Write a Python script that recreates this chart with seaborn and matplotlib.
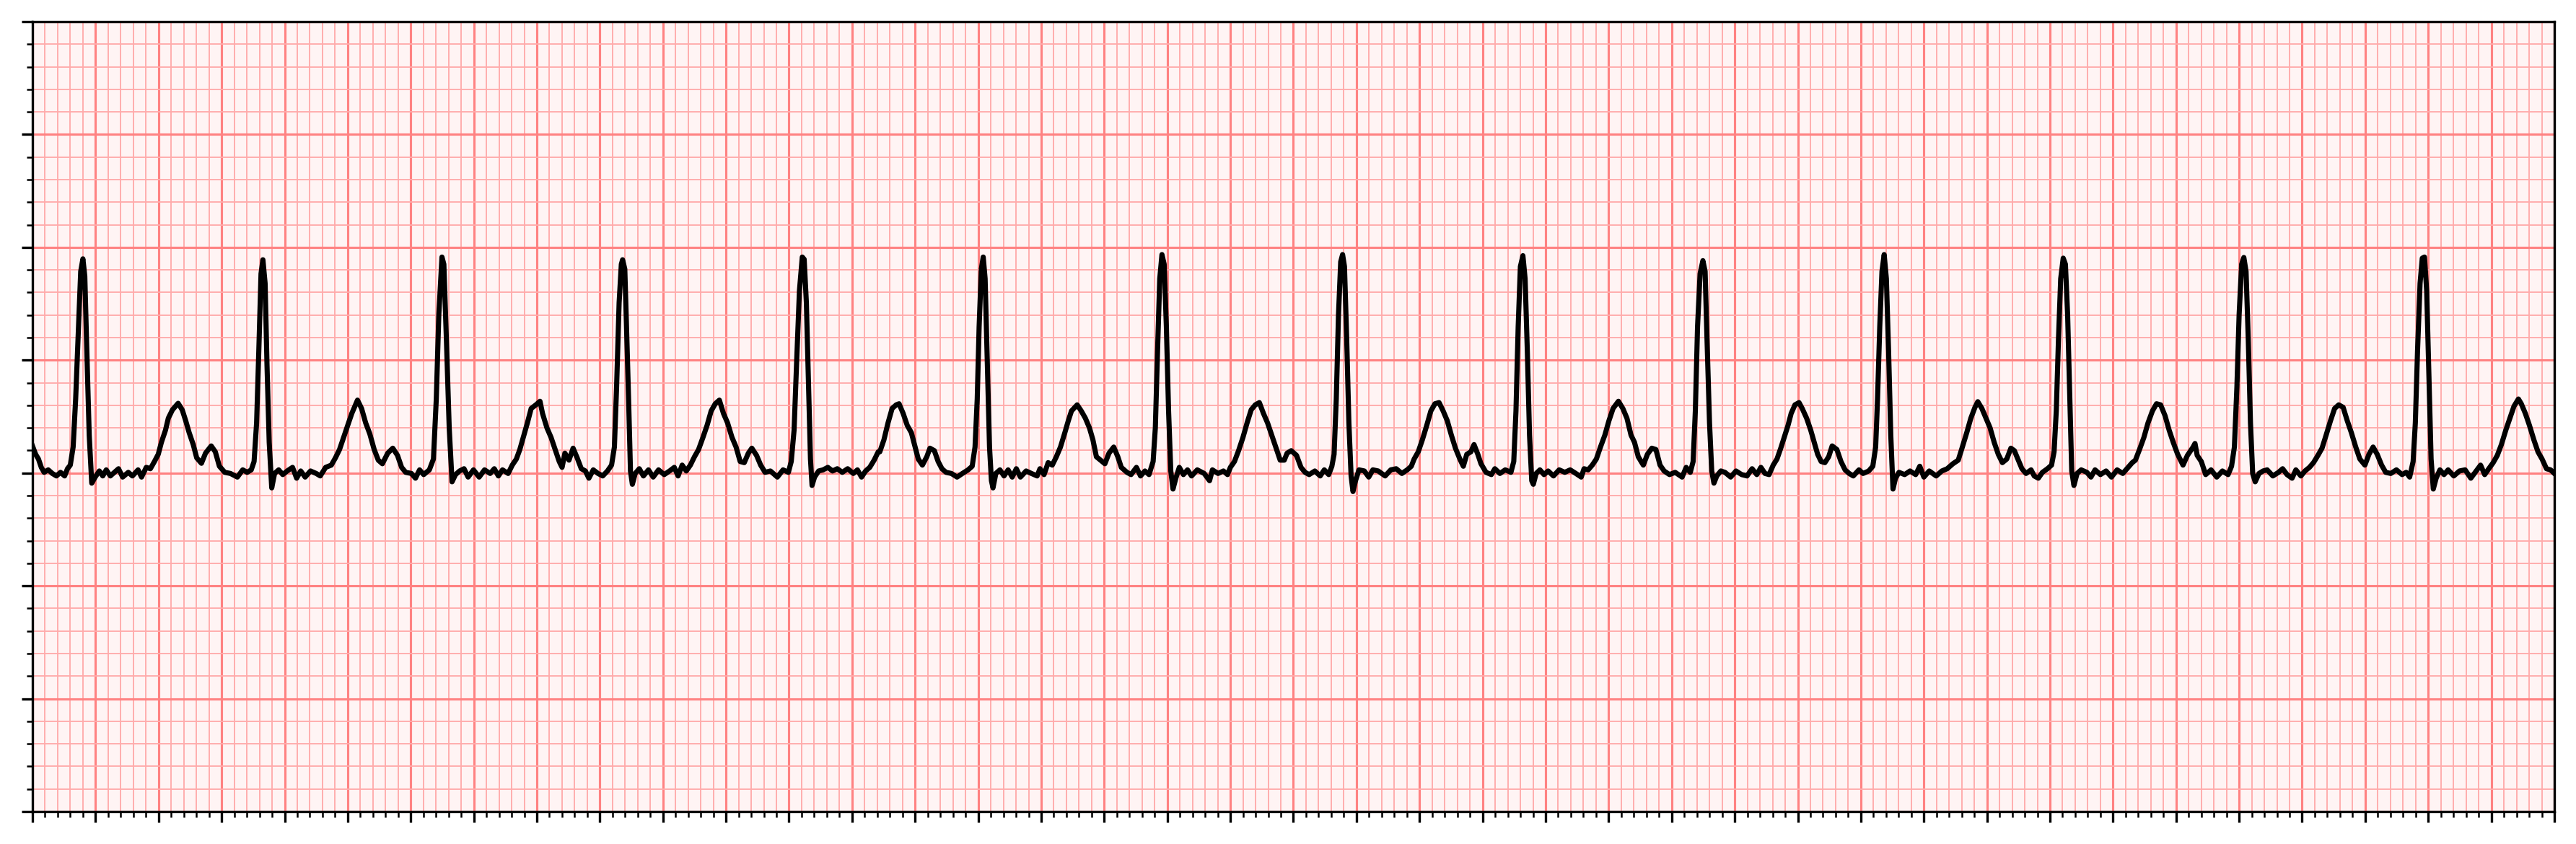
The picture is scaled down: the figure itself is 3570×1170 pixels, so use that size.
import numpy as np
import pandas as pd
import matplotlib
matplotlib.use("Agg")
import matplotlib.pyplot as plt
import seaborn as sns
from matplotlib.ticker import MultipleLocator

# ECG trace: time in seconds, amplitude in mV
time_s = [
    # 0 - 1.36 s
    0.000, 0.010, 0.019, 0.028, 0.037, 0.050, 0.063, 0.076, 0.089, 0.102, 0.111, 0.120,
    0.129, 0.137, 0.146, 0.153, 0.160, 0.166, 0.172, 0.180, 0.188, 0.199,
    0.212, 0.223, 0.234, 0.247, 0.260, 0.273, 0.286, 0.304, 0.317, 0.335, 0.346, 0.361,
    0.374, 0.387, 0.399, 0.409, 0.422, 0.431, 0.444, 0.462, 0.475, 0.486, 0.497, 0.510,
    0.521, 0.536, 0.549, 0.567, 0.580, 0.593, 0.610, 0.628, 0.650, 0.667, 0.681, 0.694,
    0.703, 0.711, 0.718, 0.725, 0.731, 0.738, 0.744, 0.751, 0.759, 0.768,
    0.781, 0.794, 0.808, 0.825, 0.838, 0.851, 0.865, 0.882, 0.900, 0.913, 0.930, 0.948,
    0.961, 0.974, 0.987, 1.000, 1.013, 1.031, 1.044, 1.057, 1.070, 1.084, 1.097, 1.110,
    1.127, 1.143, 1.158, 1.171, 1.184, 1.202, 1.215, 1.228, 1.241, 1.259,
    1.272, 1.281, 1.289, 1.299, 1.305, 1.313, 1.322, 1.331, 1.342, 1.355,
    # 1.36 - 2.68 s
    1.369, 1.382, 1.399, 1.417, 1.434, 1.452, 1.465, 1.478, 1.491, 1.509,
    1.522, 1.535, 1.546, 1.557, 1.570, 1.582, 1.597, 1.610, 1.618, 1.632, 1.645, 1.658,
    1.671, 1.680, 1.689, 1.702, 1.715, 1.728, 1.741, 1.754, 1.765, 1.779, 1.794, 1.809,
    1.824, 1.837, 1.846, 1.853, 1.861, 1.868, 1.872, 1.879, 1.884, 1.891, 1.897, 1.903,
    1.912, 1.925, 1.938, 1.954, 1.969, 1.986, 2.004, 2.021, 2.036, 2.048, 2.061, 2.074,
    2.087, 2.100, 2.113, 2.127, 2.140, 2.153, 2.166, 2.179, 2.192, 2.205, 2.219, 2.232,
    2.245, 2.258, 2.271, 2.282, 2.297, 2.310, 2.324, 2.341, 2.363, 2.381, 2.398,
    2.407, 2.416, 2.424, 2.433, 2.442, 2.448, 2.455, 2.462, 2.468, 2.473, 2.481,
    2.494, 2.508, 2.523, 2.538, 2.553, 2.569, 2.586, 2.604, 2.617, 2.630, 2.643, 2.656,
    2.670, 2.683,
    # 2.68 - 4.01 s
    2.688, 2.701, 2.714, 2.727, 2.740, 2.749, 2.762, 2.775, 2.788, 2.800, 2.810, 2.823,
    2.837, 2.847, 2.861, 2.873, 2.885, 2.898, 2.915, 2.933, 2.950, 2.968, 2.981,
    2.990, 2.997, 3.003, 3.010, 3.016, 3.022, 3.029, 3.036, 3.042, 3.047,
    3.056, 3.069, 3.082, 3.095, 3.108, 3.121, 3.134, 3.152, 3.169, 3.187, 3.196, 3.209,
    3.222, 3.235, 3.248, 3.261, 3.275, 3.286, 3.296, 3.314, 3.327, 3.340, 3.353, 3.364,
    3.375, 3.388, 3.402, 3.415, 3.430, 3.443, 3.454, 3.472, 3.485, 3.502, 3.515, 3.529, 3.542,
    3.555, 3.562, 3.569, 3.576, 3.583, 3.590, 3.597, 3.604, 3.611, 3.618,
    3.627, 3.638, 3.651, 3.664, 3.677, 3.695, 3.717, 3.734, 3.743, 3.761, 3.778, 3.791,
    3.800, 3.813, 3.826, 3.840, 3.853, 3.866, 3.879, 3.892, 3.905, 3.918, 3.931, 3.944,
    3.958, 3.971, 3.980, 3.993, 4.010,
    # 4.02 - 5.33 s
    4.024, 4.037, 4.050, 4.068, 4.085, 4.098, 4.112, 4.122,
    4.129, 4.136, 4.143, 4.150, 4.156, 4.162, 4.169, 4.176, 4.183, 4.189, 4.197,
    4.208, 4.225, 4.239, 4.252, 4.269, 4.291, 4.309, 4.326, 4.344, 4.361, 4.374,
    4.383, 4.396, 4.409, 4.423, 4.436, 4.449, 4.462, 4.475, 4.488, 4.501, 4.514, 4.528,
    4.539, 4.550, 4.563, 4.573, 4.585, 4.595, 4.611, 4.628, 4.639, 4.655, 4.672, 4.690,
    4.699, 4.706, 4.713, 4.720, 4.728, 4.735, 4.742, 4.749, 4.756, 4.761,
    4.770, 4.782, 4.795, 4.808, 4.825, 4.843, 4.861, 4.878, 4.896, 4.913, 4.922, 4.935,
    4.948, 4.961, 4.974, 4.988, 5.001, 5.014, 5.031, 5.045, 5.058, 5.071, 5.082, 5.094,
    5.110, 5.123, 5.137, 5.150, 5.163, 5.176, 5.193, 5.211, 5.233, 5.246, 5.259,
    5.268, 5.275, 5.282, 5.290, 5.299, 5.306, 5.312, 5.320, 5.327, 5.334,
    # 5.34 - 6.66 s
    5.343, 5.356, 5.369, 5.387, 5.404, 5.422, 5.439, 5.455, 5.470, 5.483, 5.496, 5.509,
    5.522, 5.534, 5.546, 5.557, 5.569, 5.579, 5.591, 5.604, 5.614, 5.628, 5.641, 5.652,
    5.663, 5.674, 5.686, 5.698, 5.709, 5.724, 5.737, 5.750, 5.763, 5.776, 5.794, 5.807, 5.825, 5.838,
    5.847, 5.853, 5.860, 5.867, 5.874, 5.881, 5.888, 5.895, 5.902, 5.910,
    5.921, 5.939, 5.956, 5.974, 5.987, 6.000, 6.017, 6.039, 6.057, 6.074, 6.092, 6.109,
    6.122, 6.136, 6.149, 6.162, 6.171, 6.184, 6.197, 6.210, 6.223, 6.236, 6.249,
    6.263, 6.276, 6.287, 6.298, 6.311, 6.324, 6.340, 6.350, 6.363, 6.376, 6.392, 6.405,
    6.413, 6.420, 6.427, 6.434, 6.442, 6.449, 6.456, 6.463, 6.469, 6.476,
    6.486, 6.499, 6.517, 6.530, 6.543, 6.560, 6.578, 6.595, 6.613, 6.631, 6.648, 6.661,
    # 6.67 - 8 s
    6.671, 6.684, 6.698, 6.711, 6.725, 6.738, 6.751, 6.765, 6.778, 6.791, 6.805, 6.822,
    6.836, 6.854, 6.860, 6.867, 6.880, 6.894, 6.911, 6.929, 6.947, 6.965, 6.976,
    6.985, 6.993, 7.000, 7.008, 7.015, 7.022, 7.029, 7.036, 7.043, 7.051,
    7.063, 7.076, 7.089, 7.107, 7.125, 7.138, 7.152, 7.168, 7.180, 7.196, 7.209, 7.223,
    7.236, 7.250, 7.263, 7.276, 7.290, 7.303, 7.316, 7.330, 7.343, 7.356, 7.370, 7.383,
    7.399, 7.412, 7.425, 7.438, 7.452, 7.465, 7.481, 7.499, 7.517, 7.530, 7.541,
    7.552, 7.559, 7.566, 7.574, 7.581, 7.588, 7.595, 7.602, 7.609, 7.616,
    7.625, 7.637, 7.650, 7.663, 7.681, 7.699, 7.717, 7.735, 7.752, 7.766, 7.779, 7.792,
    7.806, 7.819, 7.832, 7.846, 7.859, 7.872, 7.886, 7.895, 7.908, 7.921, 7.935, 7.948,
    7.961, 7.975, 7.988, 8.000,
]

ecg_mv = [
    # 0 - 1.36 s
    0.120, 0.083, 0.062, 0.025, 0.003, 0.014, -0.002, -0.013, 0.003, -0.013, 0.019, 0.035,
    0.115, 0.328, 0.648, 0.893, 0.949, 0.872, 0.563, 0.168, -0.045, -0.018,
    0.009, -0.013, 0.014, -0.013, 0.003, 0.019, -0.018, 0.003, -0.013, 0.014, -0.018, 0.025,
    0.019, 0.051, 0.083, 0.136, 0.190, 0.243, 0.280, 0.309, 0.280, 0.232, 0.179, 0.126,
    0.067, 0.043, 0.088, 0.120, 0.094, 0.030, 0.003, -0.002, -0.018, 0.014, 0.003, 0.014,
    0.051, 0.222, 0.542, 0.883, 0.945, 0.840, 0.478, 0.136, -0.066, -0.002,
    0.014, -0.007, 0.009, 0.025, -0.023, 0.009, -0.018, 0.009, -0.002, -0.013, 0.025, 0.035,
    0.067, 0.104, 0.158, 0.211, 0.264, 0.323, 0.286, 0.222, 0.174, 0.104, 0.057, 0.041,
    0.088, 0.110, 0.078, 0.025, 0.003, -0.002, -0.023, 0.014, -0.007, 0.014,
    0.062, 0.328, 0.701, 0.957, 0.925, 0.595, 0.200, -0.039, -0.007, 0.009,
    # 1.36 - 2.68 s
    0.019, -0.018, 0.014, -0.018, 0.014, -0.002, 0.019, -0.013, 0.014, -0.002,
    0.035, 0.062, 0.104, 0.158, 0.222, 0.286, 0.302, 0.318, 0.264, 0.200, 0.158, 0.104,
    0.051, 0.025, 0.088, 0.057, 0.110, 0.067, 0.019, 0.009, -0.023, 0.014, -0.002, -0.013,
    0.009, 0.035, 0.115, 0.382, 0.755, 0.925, 0.945, 0.904, 0.670, 0.328, 0.009, -0.050,
    -0.002, 0.019, -0.013, 0.014, -0.018, 0.014, -0.007, 0.009, 0.025, -0.013, 0.035, 0.009,
    0.035, 0.072, 0.104, 0.158, 0.211, 0.275, 0.307, 0.323, 0.264, 0.222, 0.158, 0.115,
    0.051, 0.046, 0.088, 0.110, 0.078, 0.035, 0.003, 0.009, -0.018, 0.014, 0.003,
    0.051, 0.190, 0.488, 0.808, 0.957, 0.947, 0.755, 0.382, 0.062, -0.055, -0.018,
    0.009, 0.014, 0.025, 0.009, 0.019, 0.003, 0.019, -0.002, 0.014, -0.018, 0.009, 0.025,
    0.057, 0.094,
    # 2.68 - 4.01 s
    0.094, 0.147, 0.222, 0.286, 0.302, 0.307, 0.264, 0.211, 0.179, 0.115, 0.062, 0.035,
    0.072, 0.110, 0.099, 0.051, 0.019, 0.003, -0.002, -0.018, -0.002, 0.014, 0.030,
    0.115, 0.328, 0.648, 0.904, 0.957, 0.861, 0.488, 0.115, -0.034, -0.066,
    -0.002, 0.014, -0.013, 0.014, -0.018, 0.019, -0.018, 0.009, -0.002, -0.013, 0.019, -0.007,
    0.046, 0.035, 0.072, 0.115, 0.179, 0.232, 0.275, 0.302, 0.275, 0.243, 0.200, 0.147,
    0.072, 0.057, 0.041, 0.088, 0.115, 0.072, 0.025, 0.003, -0.007, 0.025, -0.013, 0.009, -0.007,
    0.051, 0.200, 0.542, 0.861, 0.968, 0.925, 0.648, 0.275, 0.009, -0.071,
    -0.023, 0.025, -0.007, 0.014, -0.013, 0.014, -0.002, -0.034, 0.014, -0.002, 0.009, -0.007,
    0.025, 0.051, 0.099, 0.158, 0.222, 0.280, 0.302, 0.312, 0.264, 0.222, 0.168, 0.115,
    0.057, 0.057, 0.088, 0.099, 0.078,
    # 4.02 - 5.33 s
    0.025, 0.003, -0.007, 0.009, -0.013, 0.014, -0.007, 0.030,
    0.083, 0.328, 0.701, 0.936, 0.968, 0.915, 0.595, 0.222, -0.013, -0.082, -0.034,
    0.014, 0.009, -0.018, 0.014, 0.009, -0.013, 0.014, 0.019, -0.002, 0.014, 0.030,
    0.062, 0.094, 0.147, 0.211, 0.275, 0.307, 0.312, 0.275, 0.232, 0.168, 0.110, 0.062,
    0.030, 0.083, 0.094, 0.126, 0.083, 0.041, 0.003, -0.007, 0.019, -0.002, 0.014, 0.003,
    0.051, 0.275, 0.648, 0.915, 0.963, 0.861, 0.542, 0.168, -0.034, -0.050,
    -0.002, 0.014, -0.007, 0.009, -0.013, 0.014, 0.003, 0.014, -0.002, -0.018, 0.019, 0.014,
    0.035, 0.062, 0.115, 0.168, 0.232, 0.286, 0.318, 0.286, 0.243, 0.168, 0.136, 0.072,
    0.035, 0.083, 0.110, 0.104, 0.035, 0.009, -0.007, 0.003, -0.018, 0.025, 0.003,
    0.051, 0.275, 0.648, 0.883, 0.941, 0.893, 0.595, 0.222, 0.009, -0.045,
    # 5.34 - 6.66 s
    -0.013, 0.009, 0.003, -0.018, 0.009, -0.007, -0.013, 0.019, -0.007, 0.025, -0.002, -0.007,
    0.035, 0.062, 0.110, 0.158, 0.211, 0.264, 0.302, 0.312, 0.286, 0.243, 0.190, 0.136,
    0.083, 0.051, 0.046, 0.072, 0.120, 0.104, 0.051, 0.014, -0.002, -0.013, 0.014, -0.002, 0.009, 0.030,
    0.115, 0.328, 0.648, 0.893, 0.968, 0.861, 0.542, 0.168, -0.071, -0.023,
    0.003, -0.007, 0.009, -0.007, 0.030, -0.018, 0.009, -0.013, 0.009, 0.019, 0.041, 0.057,
    0.115, 0.179, 0.243, 0.291, 0.316, 0.286, 0.243, 0.200, 0.136, 0.083, 0.046,
    0.062, 0.110, 0.099, 0.062, 0.019, -0.002, 0.014, -0.013, -0.023, 0.003, 0.019, 0.035,
    0.094, 0.275, 0.595, 0.861, 0.952, 0.925, 0.701, 0.328, 0.009, -0.055,
    -0.002, 0.014, 0.003, -0.018, 0.014, -0.007, 0.009, -0.018, 0.014, -0.002, 0.025, 0.046,
    # 6.67 - 8 s
    0.057, 0.104, 0.158, 0.222, 0.275, 0.307, 0.302, 0.254, 0.190, 0.136, 0.083, 0.035,
    0.078, 0.115, 0.131, 0.078, 0.051, -0.007, 0.014, -0.018, 0.009, -0.007, 0.030,
    0.115, 0.382, 0.701, 0.925, 0.955, 0.893, 0.595, 0.222, -0.002, -0.039,
    -0.002, 0.009, 0.014, -0.013, 0.003, 0.019, -0.007, -0.023, 0.014, -0.013, 0.009, 0.025,
    0.046, 0.078, 0.110, 0.168, 0.232, 0.286, 0.302, 0.291, 0.232, 0.179, 0.115, 0.062,
    0.035, 0.083, 0.115, 0.083, 0.035, 0.003, -0.002, 0.014, -0.007, 0.003, -0.018,
    0.051, 0.222, 0.542, 0.840, 0.952, 0.957, 0.808, 0.435, 0.062, -0.071,
    -0.023, 0.014, -0.007, 0.014, -0.013, 0.009, 0.014, -0.023, 0.009, 0.035, -0.007, 0.019,
    0.046, 0.078, 0.126, 0.190, 0.243, 0.296, 0.328, 0.307, 0.264, 0.211, 0.147, 0.094,
    0.062, 0.019, 0.014, -0.002,
]

df = pd.DataFrame({"time_s": time_s, "ecg_mv": ecg_mv})

# figure sized for 3570x1170 at 300 dpi
fig = plt.figure(figsize=(11.9, 3.9), dpi=300)
ax = fig.add_axes([45 / 3570, 45 / 1170, 3495 / 3570, 1095 / 1170])

# ECG paper look
ax.set_facecolor("#fff4f4")

sns.lineplot(data=df, x="time_s", y="ecg_mv", color="black", linewidth=1.7,
             sort=False, estimator=None, ax=ax)

ax.set_xlim(0, 8)
ax.set_ylim(-1.5, 2.0)

# 0.2 s / 0.5 mV big squares, 0.04 s / 0.1 mV small squares
ax.xaxis.set_major_locator(MultipleLocator(0.2))
ax.xaxis.set_minor_locator(MultipleLocator(0.04))
ax.yaxis.set_major_locator(MultipleLocator(0.5))
ax.yaxis.set_minor_locator(MultipleLocator(0.1))

ax.grid(which="minor", color="#ffabab", linewidth=0.45)
ax.grid(which="major", color="#ff8282", linewidth=0.75)
ax.set_axisbelow(True)

ax.tick_params(labelbottom=False, labelleft=False)
ax.set_xlabel("")
ax.set_ylabel("")

fig.savefig("out.png", dpi=300)
